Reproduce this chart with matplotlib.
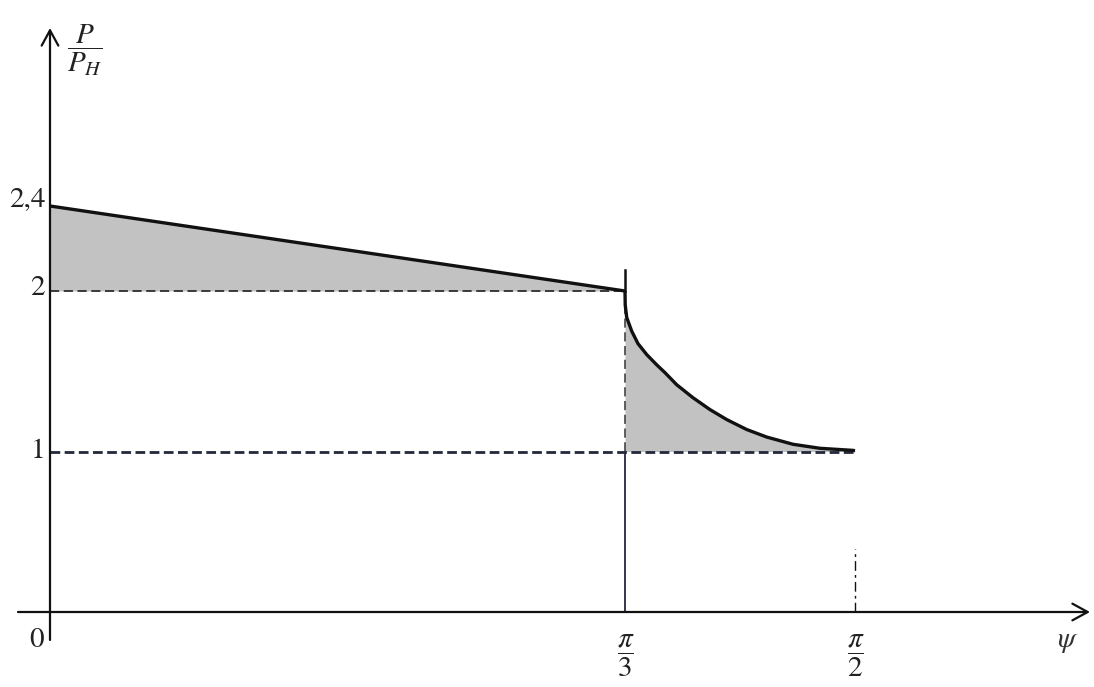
import numpy as np
import matplotlib
matplotlib.use("Agg")
import matplotlib.pyplot as plt

plt.rcParams['mathtext.fontset'] = 'stix'
plt.rcParams['font.family'] = ['STIXGeneral', 'DejaVu Serif']

# ---- data ----
PI = np.pi
psi_ticks = [PI / 3, PI / 2]
psi_tick_labels = [r'$\dfrac{\pi}{3}$', r'$\dfrac{\pi}{2}$']
y_ticks = [2.4, 2.0, 1.0]
y_tick_labels = ['2,4', '2', '1']

# linear part: from psi = 0 (P/PH = 2.4) to psi = pi/3 (P/PH = 2.0)
line_psi = [0.0, PI / 3]
line_p = [2.4, 2.0]

# curved part: from psi = pi/3 (2.0) down to psi = pi/2 (~1.0)
curve_psi = [1.0472, 1.0477, 1.0511, 1.0625, 1.0768, 1.0966, 1.1194, 1.1383,
             1.1649, 1.2020, 1.2407, 1.2787, 1.3242, 1.3698, 1.4296, 1.4911,
             1.5663, 1.5708]
curve_p = [2.000, 1.913, 1.835, 1.750, 1.672, 1.604, 1.540, 1.491,
           1.416, 1.335, 1.261, 1.199, 1.137, 1.090, 1.045, 1.020,
           1.007, 1.005]

# ---- schematic (piecewise-linear) axes like the hand-drawn figure ----
W, H = 1094, 687
x_anchor_data = [0.0, PI / 3, PI / 2]
x_anchor_px = [50.0, 625.0, 855.0]
y_anchor_data = [0.0, 1.0, 2.0, 2.4]
y_anchor_px = [H - 612.0, H - 451.5, H - 291.0, H - 206.0]


def pw(v, xp, fp):
    v = np.asarray(v, dtype=float)
    out = np.interp(v, xp, fp)
    s0 = (fp[1] - fp[0]) / (xp[1] - xp[0])
    s1 = (fp[-1] - fp[-2]) / (xp[-1] - xp[-2])
    out = np.where(v < xp[0], fp[0] + (v - xp[0]) * s0, out)
    out = np.where(v > xp[-1], fp[-1] + (v - xp[-1]) * s1, out)
    return out


xf = lambda v: pw(v, x_anchor_data, x_anchor_px)
xi = lambda u: pw(u, x_anchor_px, x_anchor_data)
yf = lambda v: pw(v, y_anchor_data, y_anchor_px)
yi = lambda u: pw(u, y_anchor_px, y_anchor_data)

fig = plt.figure(figsize=(W / 100, H / 100), dpi=100)
ax = fig.add_axes([0, 0, 1, 1])
ax.set_xscale('function', functions=(xf, xi))
ax.set_yscale('function', functions=(yf, yi))
ax.set_xlim(float(xi(0)), float(xi(W)))
ax.set_ylim(float(yi(0)), float(yi(H)))
ax.axis('off')

ink = '#111111'
navy = '#23283a'
fill_c = '#c2c2c2'

# shaded areas
ax.fill_between(line_psi, line_p, 2.0, color=fill_c, lw=0, zorder=1)
ax.fill_between(curve_psi, curve_p, 1.0, color=fill_c, lw=0, zorder=1)

# reference lines
ax.plot([0, PI / 3], [2.0, 2.0], color=ink, lw=1.1, dashes=(6, 3), zorder=2)
ax.plot([0, PI / 2], [1.0, 1.0], color=navy, lw=2.0, dashes=(3.5, 1.6), zorder=2)
ax.plot([PI / 3, PI / 3], [2.0, 1.0], color='#333333', lw=1.1, dashes=(6, 3), zorder=2)
ax.plot([PI / 3, PI / 3], [1.0, 0.0], color=navy, lw=1.3, zorder=2)
ax.plot([PI / 3, PI / 3], [2.0, 2.1], color=ink, lw=1.8, zorder=2)
ax.plot([PI / 2, PI / 2], [0.0, 0.39], color=ink, lw=1.0,
        dashes=(7, 3, 2, 3), zorder=2)

# main curve
ax.plot(line_psi, line_p, color=ink, lw=2.4, solid_capstyle='butt', zorder=3)
ax.plot(curve_psi, curve_p, color=ink, lw=2.4, solid_capstyle='butt',
        solid_joinstyle='round', zorder=3)

# axes with arrows
x_left, x_right = float(xi(18)), float(xi(1090))
y_bottom, y_top = float(yi(H - 640)), float(yi(H - 28))
arrow = dict(arrowstyle='->,head_length=0.55,head_width=0.3', color=ink,
             lw=1.6, shrinkA=0, shrinkB=0, mutation_scale=20)
ax.annotate('', xy=(x_right, 0), xytext=(x_left, 0), arrowprops=arrow, zorder=4)
ax.annotate('', xy=(0, y_top), xytext=(0, y_bottom), arrowprops=arrow, zorder=4)

fs = 21
# y tick labels
y_off = {2.4: 6, 2.0: 3, 1.0: 0}
for v, lab in zip(y_ticks, y_tick_labels):
    ax.annotate(lab, xy=(0, v), xytext=(-5, y_off[v]), textcoords='offset pixels',
                ha='right', va='center', fontsize=fs, color='#222222')
ax.annotate('0', xy=(0, 0), xytext=(-13, -28), textcoords='offset pixels',
            ha='center', va='center', fontsize=fs, color='#222222')

# x tick labels
for v, lab in zip(psi_ticks, psi_tick_labels):
    ax.annotate(lab, xy=(v, 0), xytext=(1, -44), textcoords='offset pixels',
                ha='center', va='center', fontsize=fs, color='#222222')

# axis titles
ax.annotate(r'$\psi$', xy=(x_right, 0), xytext=(-22, -30), textcoords='offset pixels',
            ha='center', va='center', fontsize=fs, color='#333333')
ax.annotate(r'$\dfrac{P}{P_H}$', xy=(0, y_top), xytext=(35, -22),
            textcoords='offset pixels', ha='center', va='center',
            fontsize=fs, color='#222222')

fig.savefig('out.png', dpi=100)
